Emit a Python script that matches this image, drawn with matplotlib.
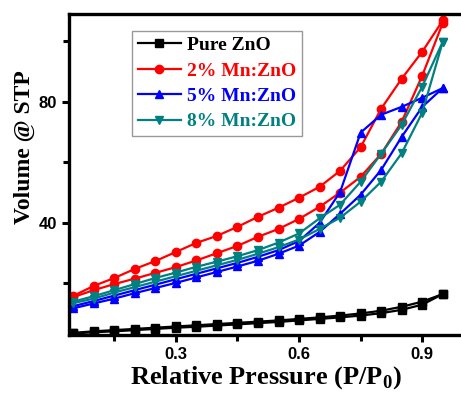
import matplotlib
matplotlib.use('Agg')
import matplotlib.pyplot as plt
from matplotlib.ticker import MultipleLocator

plt.rcParams['mathtext.fontset'] = 'custom'
plt.rcParams['mathtext.rm'] = 'Liberation Serif:bold'
plt.rcParams['mathtext.bf'] = 'Liberation Serif:bold'

# relative pressure points (same for every branch)
p = [0.05, 0.10, 0.15, 0.20, 0.25, 0.30, 0.35, 0.40, 0.45, 0.50,
     0.55, 0.60, 0.65, 0.70, 0.75, 0.80, 0.85, 0.90, 0.95]

pure_ads = [3.5, 3.9, 4.2, 4.6, 5.0, 5.4, 5.7, 6.1, 6.5, 6.9,
            7.3, 7.8, 8.3, 8.8, 9.4, 10.2, 11.3, 13.0, 16.5]
pure_des = [3.7, 4.2, 4.6, 5.0, 5.4, 5.8, 6.2, 6.6, 7.0, 7.4,
            7.8, 8.3, 8.8, 9.4, 10.1, 11.0, 12.3, 14.0, 16.5]

mn2_ads = [15.5, 17.8, 19.8, 21.6, 23.5, 25.4, 27.6, 30.0, 32.4, 35.4,
           38.0, 41.3, 45.3, 50.0, 55.2, 62.8, 73.4, 88.6, 106.0]
mn2_des = [15.9, 19.2, 21.8, 24.8, 27.4, 30.4, 33.4, 35.7, 38.7, 42.0,
           45.0, 48.3, 51.9, 57.2, 65.0, 77.7, 87.6, 96.5, 106.8]

mn5_ads = [11.8, 13.4, 15.0, 16.8, 18.5, 20.2, 22.0, 23.8, 25.6, 27.5,
           29.8, 32.5, 37.0, 43.0, 49.3, 57.5, 68.4, 78.3, 84.5]
mn5_des = [12.5, 14.2, 16.0, 17.8, 19.6, 21.4, 23.2, 25.0, 26.8, 28.8,
           31.0, 34.0, 40.0, 50.2, 69.8, 75.7, 78.3, 81.3, 84.5]

mn8_ads = [13.5, 15.0, 17.0, 18.8, 20.6, 22.4, 24.2, 26.0, 27.8, 29.8,
           32.0, 34.5, 38.0, 41.7, 47.0, 53.6, 63.0, 76.4, 99.8]
mn8_des = [14.0, 15.8, 17.8, 19.8, 21.8, 23.6, 25.5, 27.2, 29.0, 31.0,
           33.5, 36.5, 41.5, 46.0, 53.6, 62.8, 72.4, 85.0, 99.8]

labels = ['Pure ZnO', '2% Mn:ZnO', '5% Mn:ZnO', '8% Mn:ZnO']
colors = ['black', '#ff0000', '#0000ff', '#008080']
markers = ['s', 'o', '^', 'v']
series = [(pure_ads, pure_des), (mn2_ads, mn2_des),
          (mn5_ads, mn5_des), (mn8_ads, mn8_des)]

fig = plt.figure(figsize=(4.61, 3.95), dpi=100)
ax = fig.add_axes([0.15, 0.152, 0.855, 0.813])

handles = []
for (ads, des), c, m, lab in zip(series, colors, markers, labels):
    h, = ax.plot(p, ads, color=c, marker=m, markersize=6, linewidth=1.6, label=lab)
    ax.plot(p, des, color=c, marker=m, markersize=6, linewidth=1.6)
    handles.append(h)

ax.set_xlim(0.04, 1.0)
ax.set_ylim(3, 109)
ax.xaxis.set_major_locator(MultipleLocator(0.3))
ax.xaxis.set_minor_locator(MultipleLocator(0.15))
ax.yaxis.set_major_locator(MultipleLocator(40))
ax.yaxis.set_minor_locator(MultipleLocator(20))

for s in ax.spines.values():
    s.set_linewidth(2.4)
ax.spines['right'].set_visible(False)
ax.tick_params(which='major', direction='out', length=5, width=2.2, top=False, right=False)
ax.tick_params(which='minor', direction='out', length=4, width=2.2, top=False, right=False)
for t in ax.get_xticklabels() + ax.get_yticklabels():
    t.set_fontfamily('Liberation Sans')
    t.set_fontweight('bold')
    t.set_fontsize(12)

ax.set_xlabel('Relative Pressure (P/P$_\\mathrm{0}$)', family='Liberation Serif',
              fontweight='bold', fontsize=19, labelpad=2)
fig.text(0.054, 0.628, 'Volume @ STP', rotation=90, ha='center', va='center',
         family='Liberation Serif', fontweight='bold', fontsize=17)

leg = ax.legend(handles=handles, loc='upper left', bbox_to_anchor=(0.16, 0.947),
                prop={'family': 'Liberation Serif', 'weight': 'bold', 'size': 14},
                frameon=True, fancybox=False, edgecolor='gray', handlelength=2.2,
                handletextpad=0.3, labelspacing=0.4, borderpad=0.3, borderaxespad=0)
leg.get_frame().set_linewidth(1.0)
for t, c in zip(leg.get_texts(), colors):
    t.set_color(c)

fig.savefig('out.png', dpi=100)
